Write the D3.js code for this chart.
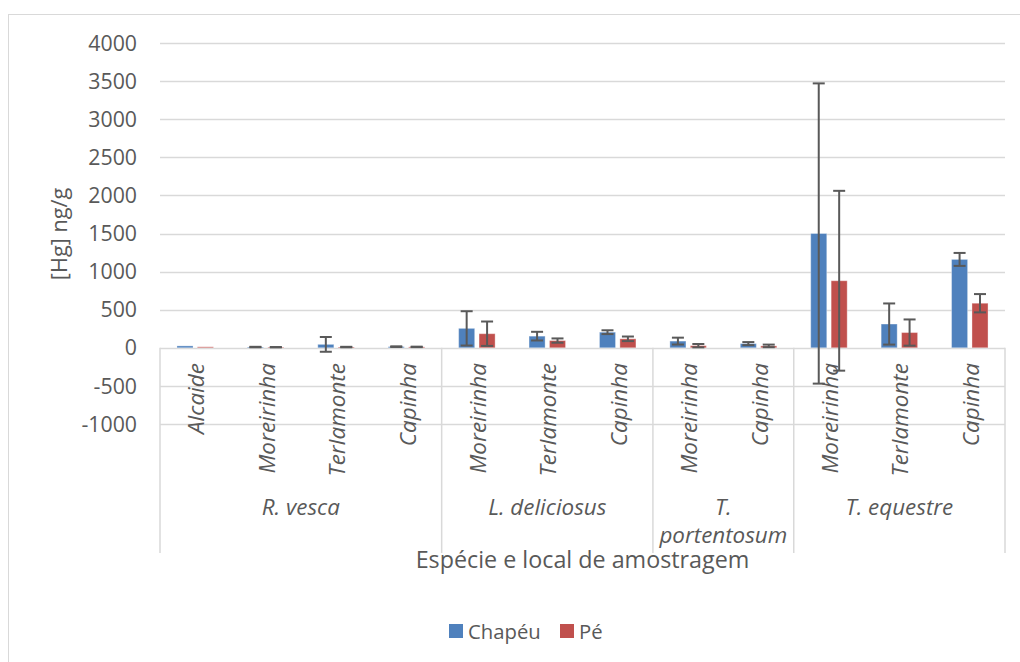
<!DOCTYPE html>
<html>
<head>
<meta charset="utf-8">
<script src="https://cdn.jsdelivr.net/npm/d3@7"></script>
<style>
  html, body { margin: 0; padding: 0; background: #fff; }
  svg { display: block; font-family: "Open Sans", "Noto Sans", sans-serif; }
</style>
</head>
<body>
<svg id="chart" width="1020" height="662"></svg>
<script>
// ---- data ----
const species = ["R. vesca", "L. deliciosus", "T. portentosum", "T. equestre"];
const speciesCounts = [4, 3, 2, 3];
const sites = ["Alcaide", "Moreirinha", "Terlamonte", "Capinha",
               "Moreirinha", "Terlamonte", "Capinha",
               "Moreirinha", "Capinha",
               "Moreirinha", "Terlamonte", "Capinha"];
const chapeu   = [25, 10, 45, 15, 255, 153, 205, 88, 55, 1500, 312, 1160];
const chapeuSD = [null, 3, 97, 4, 225, 57, 25, 45, 20, 1970, 270, 85];
const pe       = [13, 8, 10, 12, 185, 95, 118, 28, 25, 880, 200, 585];
const peSD     = [null, 2, 3, 3, 160, 28, 30, 22, 17, 1180, 172, 120];
const yTicks = [-1000, -500, 0, 500, 1000, 1500, 2000, 2500, 3000, 3500, 4000];
const seriesNames = ["Chapéu", "Pé"];
const seriesColors = ["#4F81BD", "#C0504D"];

(function () {
// ---- layout ----
const svg = d3.select("#chart");
const pLeft = 160, pRight = 1005, pTop = 43, pBottom = 424;
const axisBottom = 553;
const gridColor = "#D9D9D9", textColor = "#595959";

// frame
svg.append("rect").attr("x", 8.5).attr("y", 14.5).attr("width", 1030).attr("height", 700)
  .attr("fill", "none").attr("stroke", gridColor).attr("stroke-width", 1);

const y = d3.scaleLinear().domain([-1000, 4000]).range([pBottom, pTop]);
const x = d3.scaleBand().domain(d3.range(sites.length)).range([pLeft, pRight]).padding(0);
const bw = x.bandwidth();
const barW = bw * 0.228, gap = bw * 0.062;

// gridlines
svg.append("g").selectAll("line").data(yTicks).join("line")
  .attr("x1", pLeft).attr("x2", pRight)
  .attr("y1", d => Math.round(y(d)) + 0.5).attr("y2", d => Math.round(y(d)) + 0.5)
  .attr("stroke", gridColor).attr("stroke-width", 1.3);

// y tick labels
svg.append("g").selectAll("text").data(yTicks).join("text")
  .attr("x", 137).attr("y", d => y(d)).attr("dy", "0.36em")
  .attr("text-anchor", "end").attr("font-size", 21.3).attr("fill", textColor)
  .text(d => d);

// group separators (multi-level axis)
const bounds = [0];
speciesCounts.forEach((c, i) => bounds.push(bounds[i] + c));
svg.append("g").selectAll("line").data(bounds).join("line")
  .attr("x1", d => d < sites.length ? x(d) : pRight)
  .attr("x2", d => d < sites.length ? x(d) : pRight)
  .attr("y1", y(0)).attr("y2", axisBottom)
  .attr("stroke", gridColor).attr("stroke-width", 1.5);

// bars
const series = [
  { vals: chapeu, sd: chapeuSD, color: seriesColors[0] },
  { vals: pe, sd: peSD, color: seriesColors[1] }
];
const barG = svg.append("g");
series.forEach((s, si) => {
  const off = si === 0 ? bw / 2 - gap / 2 - barW : bw / 2 + gap / 2;
  barG.append("g").selectAll("rect").data(s.vals).join("rect")
    .attr("x", (d, i) => x(i) + off)
    .attr("width", barW)
    .attr("y", d => y(d))
    .attr("height", d => y(0) - y(d))
    .attr("fill", s.color)
    .attr("stroke", "rgba(255,255,255,0.35)").attr("stroke-width", 1);
});

// error bars
const capW = 12;
const errG = svg.append("g").attr("stroke", "#595959").attr("stroke-width", 2).attr("fill", "none");
series.forEach((s, si) => {
  const off = si === 0 ? bw / 2 - gap / 2 - barW / 2 : bw / 2 + gap / 2 + barW / 2;
  s.vals.forEach((v, i) => {
    const sd = s.sd[i];
    if (sd == null) return;
    const cx = x(i) + off;
    const y1 = y(v + sd), y2 = y(v - sd);
    errG.append("line").attr("x1", cx).attr("x2", cx).attr("y1", y1).attr("y2", y2);
    errG.append("line").attr("x1", cx - capW / 2).attr("x2", cx + capW / 2).attr("y1", y1).attr("y2", y1);
    errG.append("line").attr("x1", cx - capW / 2).attr("x2", cx + capW / 2).attr("y1", y2).attr("y2", y2);
  });
});

// site labels (rotated)
svg.append("g").selectAll("text").data(sites).join("text")
  .attr("transform", (d, i) => `translate(${x(i) + bw / 2 + 1},363) rotate(-90)`)
  .attr("dy", "0.36em")
  .attr("text-anchor", "end").attr("font-size", 22.5).attr("font-style", "italic")
  .attr("fill", textColor).text(d => d);

// species labels
const spG = svg.append("g").attr("font-size", 22.4).attr("font-style", "italic").attr("fill", textColor).attr("text-anchor", "middle");
species.forEach((sp, i) => {
  const x0 = x(bounds[i]);
  const x1 = bounds[i + 1] < sites.length ? x(bounds[i + 1]) : pRight;
  const cx = (x0 + x1) / 2;
  const words = sp.split(" ");
  const t = spG.append("text").attr("x", cx).attr("y", 515);
  if (x1 - x0 < 150 && words.length > 1) {
    t.append("tspan").attr("x", cx).text(words[0]);
    t.append("tspan").attr("x", cx).attr("dy", 28).text(words.slice(1).join(" "));
  } else {
    t.text(sp);
  }
});

// axis titles
svg.append("text").attr("x", (pLeft + pRight) / 2).attr("y", 568)
  .attr("text-anchor", "middle").attr("font-size", 23.3).attr("fill", textColor)
  .text("Espécie e local de amostragem");
svg.append("text").attr("transform", "translate(67,234) rotate(-90)")
  .attr("text-anchor", "middle").attr("font-size", 21.7).attr("fill", textColor)
  .text("[Hg] ng/g");

// legend
const legX = [449, 560];
const leg = svg.append("g");
seriesNames.forEach((n, i) => {
  leg.append("rect").attr("x", legX[i]).attr("y", 624).attr("width", 14).attr("height", 14).attr("fill", seriesColors[i]);
  leg.append("text").attr("x", legX[i] + 19).attr("y", 639).attr("font-size", 20.3).attr("fill", textColor).text(n);
});
})();
</script>
</body>
</html>
